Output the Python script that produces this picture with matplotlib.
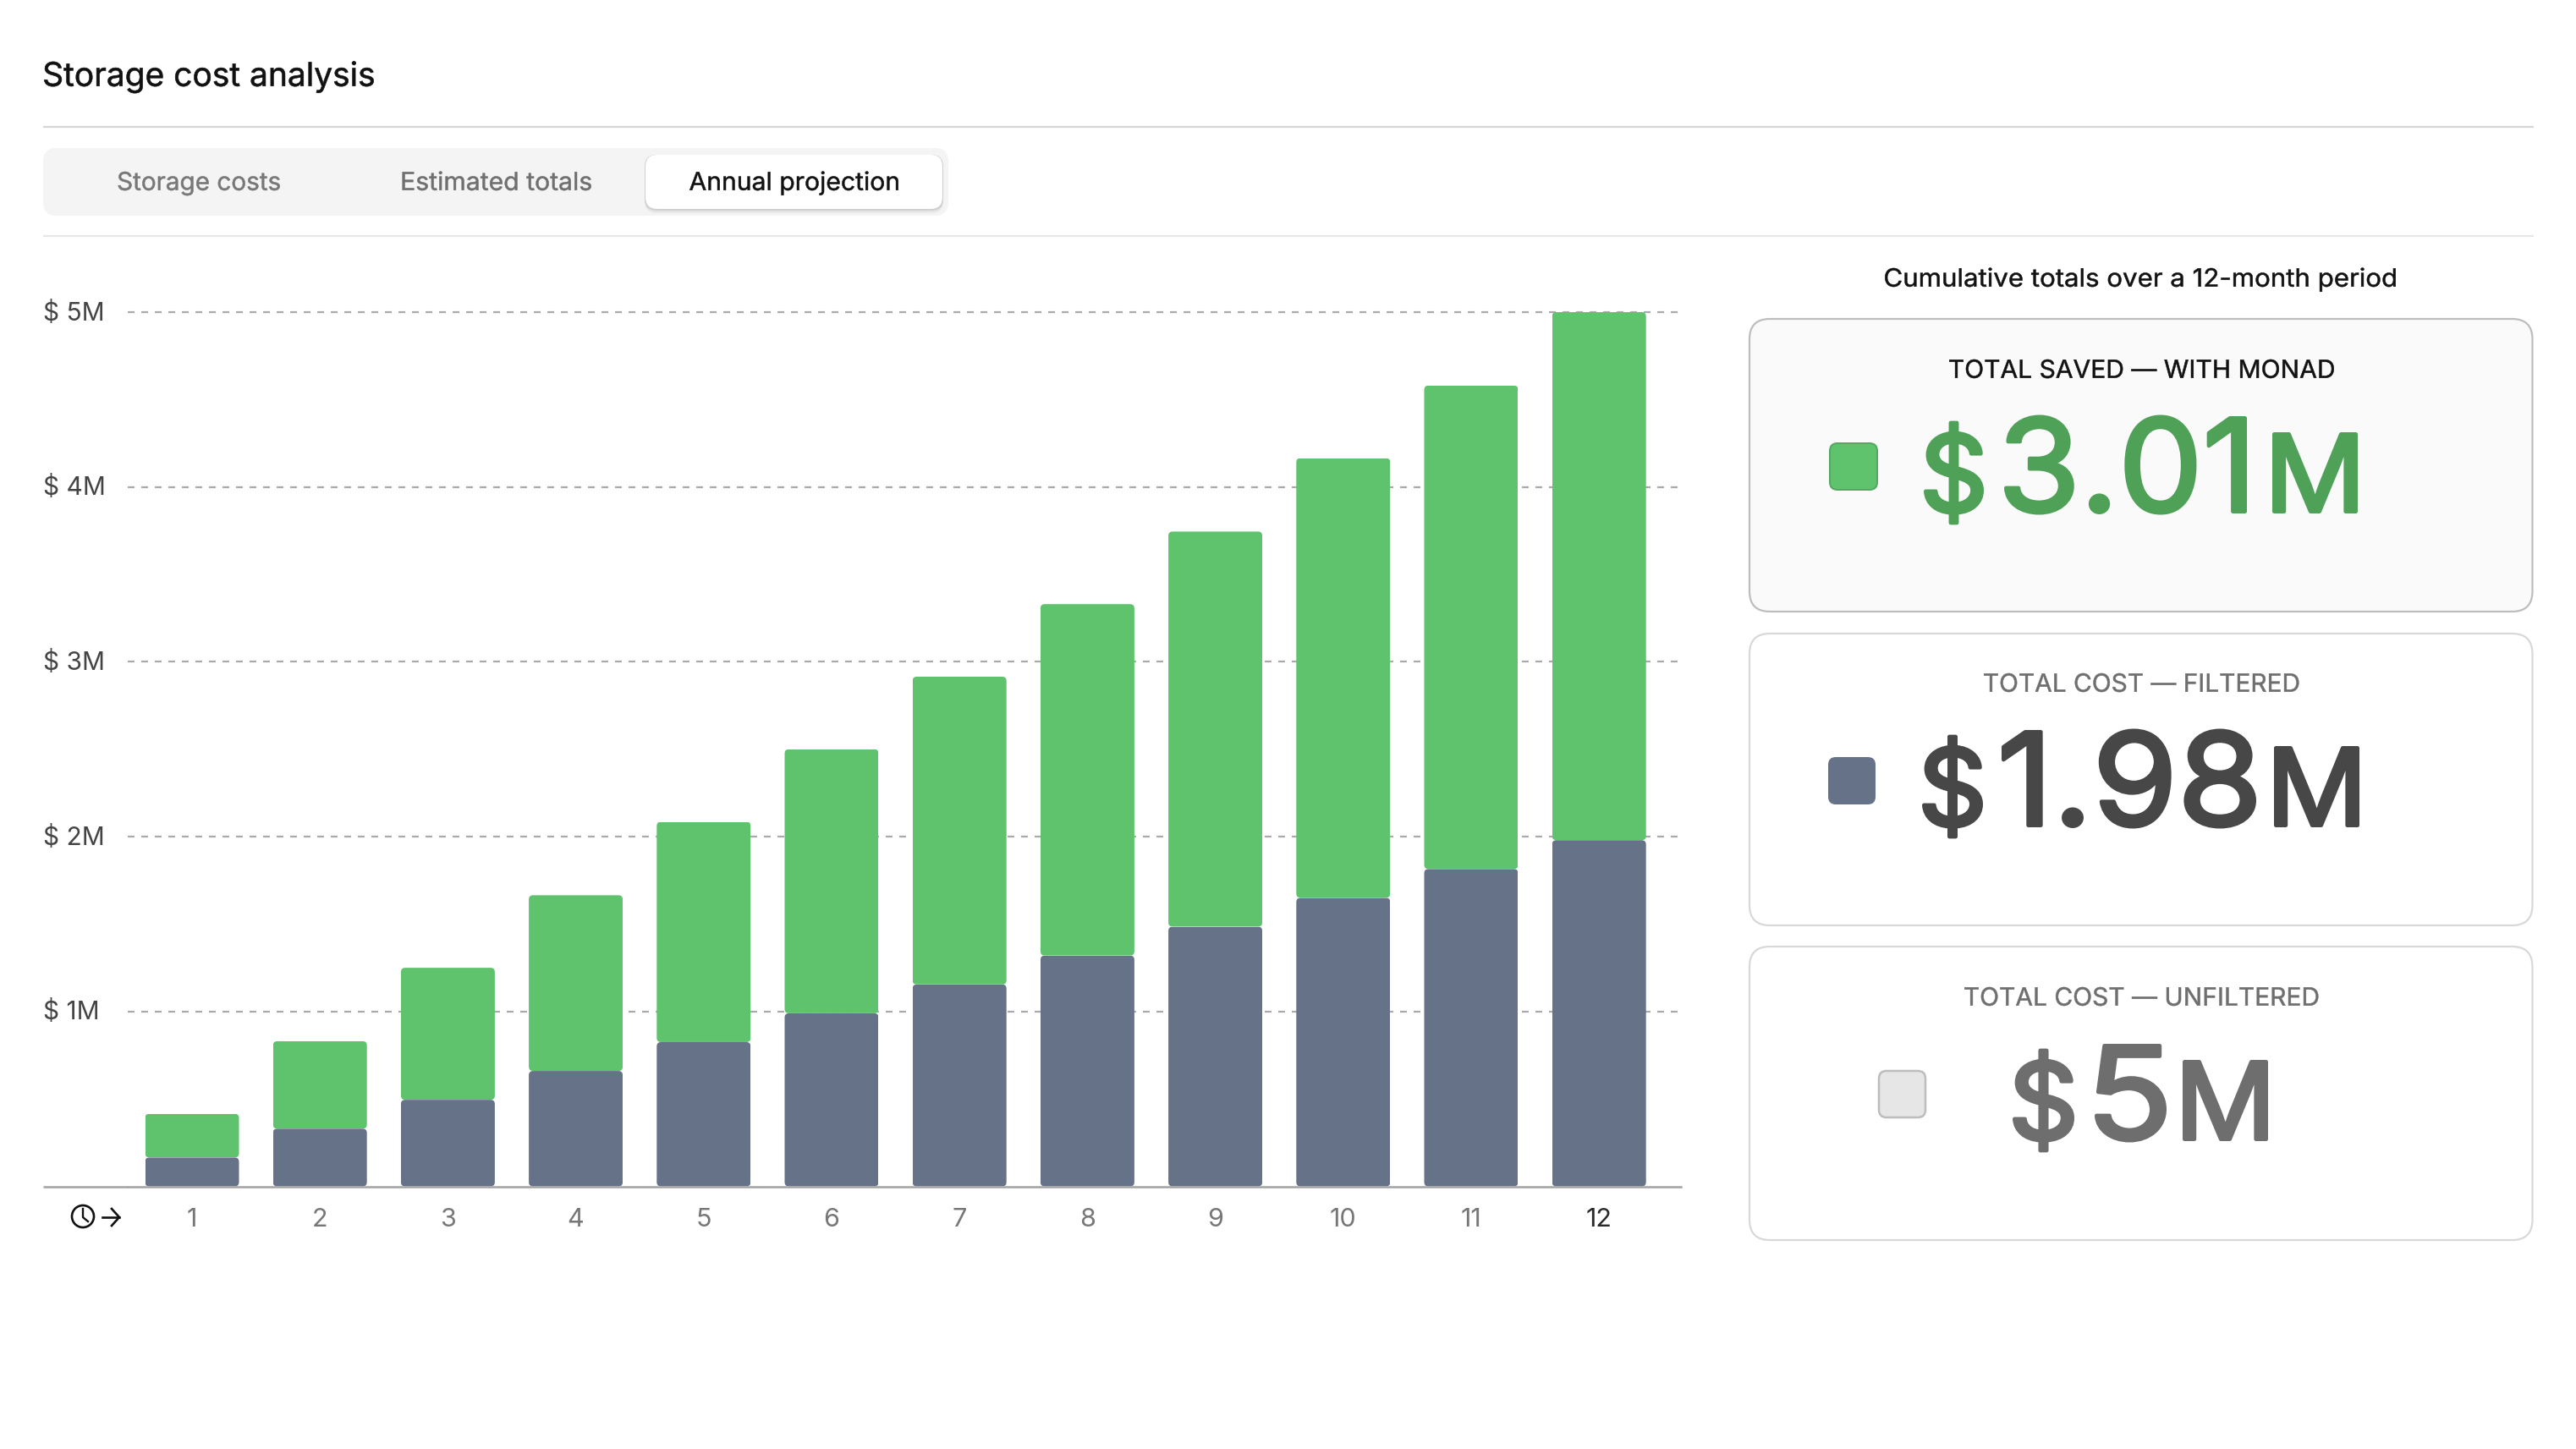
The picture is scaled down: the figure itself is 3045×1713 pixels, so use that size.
import matplotlib
matplotlib.use("Agg")
import matplotlib.pyplot as plt
from matplotlib.patches import FancyBboxPatch, Circle
from matplotlib.patheffects import AbstractPathEffect
from matplotlib.font_manager import FontProperties
from matplotlib.textpath import TextPath
from matplotlib.transforms import Affine2D, ScaledTranslation

months = ["1", "2", "3", "4", "5", "6", "7", "8", "9", "10", "11", "12"]
filtered_cost = [0.165, 0.33, 0.495, 0.66, 0.825, 0.99, 1.155, 1.32, 1.485, 1.65, 1.815, 1.98]
total_saved = [0.25, 0.50, 0.755, 1.005, 1.26, 1.51, 1.76, 2.01, 2.26, 2.515, 2.765, 3.02]
y_ticks = [1, 2, 3, 4, 5]
y_tick_labels = ["$ 1M", "$ 2M", "$ 3M", "$ 4M", "$ 5M"]

GREEN = "#5EC36C"
SLATE = "#667288"
W, H = 3045, 1713
FONT = "Inter"
plt.rcParams["font.family"] = [FONT, "DejaVu Sans"]

fig = plt.figure(figsize=(W / 100, H / 100), dpi=100, facecolor="white")

# Pixel-space layer for the interface around the chart
ui = fig.add_axes([0, 0, 1, 1], zorder=0)
ui.set_xlim(0, W)
ui.set_ylim(H, 0)
ui.axis("off")


class HScale(AbstractPathEffect):
    def __init__(self, sx, stroke=0.0):
        super().__init__()
        self.sx = sx
        self.stroke = stroke

    def draw_path(self, renderer, gc, tpath, affine, rgbFace=None):
        gc0 = renderer.new_gc()
        gc0.copy_properties(gc)
        gc0.set_linewidth(self.stroke)
        gc0.set_joinstyle("round")
        if rgbFace is not None:
            gc0.set_foreground(rgbFace[:3])
        renderer.draw_path(gc0, tpath, Affine2D().scale(self.sx, 1) + affine, rgbFace)
        gc0.restore()


def put(s, x0, x1, base, cap, color, stroke=0.0):
    """Real text whose ink spans x0..x1 on baseline base, with cap height cap (px)."""
    x0, x1, base, cap = x0 + stroke / 2, x1 - stroke / 2, base - stroke / 2, cap - stroke
    fp = FontProperties(family=FONT)
    ref = TextPath((0, 0), "H", size=100, prop=fp).get_extents()
    px = 100 * cap / ref.height
    ext = TextPath((0, 0), s, size=px, prop=fp).get_extents()
    sx = (x1 - x0) / ext.width
    t = ui.text(x0 - ext.xmin * sx, base, s, fontsize=px * 0.72, color=color, ha="left",
                va="baseline", family=[FONT, "DejaVu Sans"])
    t.set_path_effects([HScale(sx, stroke * 0.72)])
    return t


def box(x0, y0, x1, y1, r, fc, ec="none", lw=0.0, z=1, alpha=None):
    p = FancyBboxPatch((x0, y0), x1 - x0, y1 - y0, boxstyle=f"round,pad=0,rounding_size={r}",
                       fc=fc, ec=ec, lw=lw * 0.72, zorder=z, alpha=alpha)
    ui.add_patch(p)
    return p


BIG = 4.5

# Header
put("Storage cost analysis", 52, 442, 102, 29, "#111111", 0.6)
ui.plot([51, 2995], [150, 150], color="#d6d6d6", lw=1.6, solid_capstyle="butt")
ui.plot([51, 2995], [279, 279], color="#e6e6e6", lw=1.6, solid_capstyle="butt")

# Tabs
box(51, 175, 1121, 255, 16, "#f4f4f4")
for off, a in ((5, 0.04), (3, 0.05), (1.5, 0.07)):
    box(763 - 1, 183, 1114 + 1, 247 + off, 14, "#000000", z=1.5, alpha=a)
box(763, 183, 1114, 247, 14, "white", z=2)
put("Storage costs", 139.5, 331, 225, 22, "#777777", 0.5)
put("Estimated totals", 475.5, 699, 225, 22, "#6f6f6f", 0.5)
put("Annual projection", 815, 1062, 225, 22, "#111111", 0.5)

# Right-hand panel
put("Cumulative totals over a 12-month period", 2228, 2832, 339, 22, "#111111", 0.5)

box(2068, 377, 2993.5, 723, 24, "#fafafa", "#bdbdbd", 2.2)
put("TOTAL SAVED — WITH MONAD", 2304, 2759, 447, 22, "#111111", 0.5)
box(2163, 524, 2219, 579, 9, GREEN, "#55a862", 2)
put("$", 2274, 2345, 607, 96, "#4EA157", BIG)
put("3.01", 2369, 2656, 607, 115, "#4EA157", BIG)
put("M", 2686, 2787, 607, 96, "#4EA157", BIG)

box(2068, 749, 2993.5, 1094, 24, "white", "#d8d8d8", 2.2)
put("TOTAL COST — FILTERED", 2345, 2717.5, 818, 22, "#6e6e6e", 0.5)
box(2161, 895, 2217, 951, 9, SLATE)
put("$", 2272, 2344, 978, 96, "#474747", BIG)
put("1.98", 2366, 2667, 978, 115, "#474747", BIG)
put("M", 2688, 2789, 978, 96, "#474747", BIG)

box(2068, 1119, 2993.5, 1466, 24, "white", "#d8d8d8", 2.2)
put("TOTAL COST — UNFILTERED", 2322, 2740.5, 1189, 22, "#6e6e6e", 0.5)
box(2221, 1266, 2276, 1321, 9, "#e6e6e6", "#bdbdbd", 2.5)
put("$", 2379, 2452, 1349, 96, "#6e6e6e", BIG)
put("5", 2476, 2561, 1349, 115, "#6e6e6e", BIG)
put("M", 2580, 2681, 1349, 96, "#6e6e6e", BIG)

# Baseline stub and clock-arrow icon left of the plot area
ui.plot([51, 151], [1402.5, 1402.5], color="#a3a3a3", lw=1.8, solid_capstyle="butt")
ui.add_patch(Circle((98, 1438), 13, fc="none", ec="#111111", lw=1.9))
ui.plot([98, 98, 104], [1429, 1439, 1444], color="#111111", lw=1.7)
ui.plot([121, 141], [1439, 1439], color="#111111", lw=1.9)
ui.plot([132, 141, 132], [1429, 1439, 1449], color="#111111", lw=1.9)

# Chart
ax_l, ax_r, ax_t, ax_b = 151, 1987, 340, 1402.5
y5, step, c1 = 369, 151.2, 227
ax = fig.add_axes([ax_l / W, 1 - ax_b / H, (ax_r - ax_l) / W, (ax_b - ax_t) / H], zorder=1)
ax.patch.set_alpha(0)
ax.set_xlim((ax_l - c1) / step, (ax_r - c1) / step)
ymax = (ax_b - ax_t) / ((ax_b - y5) / 5)
ax.set_ylim(0, ymax)

xs = list(range(len(months)))
width = 111 / step
b1 = ax.bar(xs, filtered_cost, width=width, color=SLATE, zorder=3)
b2 = ax.bar(xs, total_saved, width=width, bottom=filtered_cost, color=GREEN, zorder=3)

px_y = ymax / (ax_b - ax_t)
px_x = 1 / step
for bar in list(b1) + list(b2):
    clip = FancyBboxPatch(bar.get_xy(), bar.get_width(), bar.get_height(),
                          boxstyle=f"round,pad=0,rounding_size={5 * px_x}",
                          mutation_aspect=px_y / px_x, transform=ax.transData)
    bar.set_clip_path(clip)

ax.set_yticks(y_ticks)
ax.set_yticklabels(y_tick_labels, color="#444444", fontsize=21.5)
ax.set_xticks(xs)
ax.set_xticklabels(months, color="#777777", fontsize=22)
ax.get_xticklabels()[-1].set_color("#2a2a2a")
ax.tick_params(axis="both", length=0)
ax.tick_params(axis="x", pad=18.5)
ax.tick_params(axis="y", pad=(ax_l - 51) * 0.72)
lift = ScaledTranslation(0, 2 / 100, fig.dpi_scale_trans)
for lab in ax.get_yticklabels():
    lab.set_ha("left")
    lab.set_va("center_baseline")
    lab.set_transform(lab.get_transform() + lift)

ax.yaxis.grid(True, color="#aaaaaa", linewidth=1.6, linestyle=(0, (3.6, 3.6)), zorder=1)
ax.xaxis.grid(False)
ax.set_axisbelow(True)
for s in ("top", "left", "right"):
    ax.spines[s].set_visible(False)
ax.spines["bottom"].set_color("#a3a3a3")
ax.spines["bottom"].set_linewidth(1.8)
ax.spines["bottom"].set_zorder(4)

fig.savefig("out.png", dpi=100, facecolor="white")
